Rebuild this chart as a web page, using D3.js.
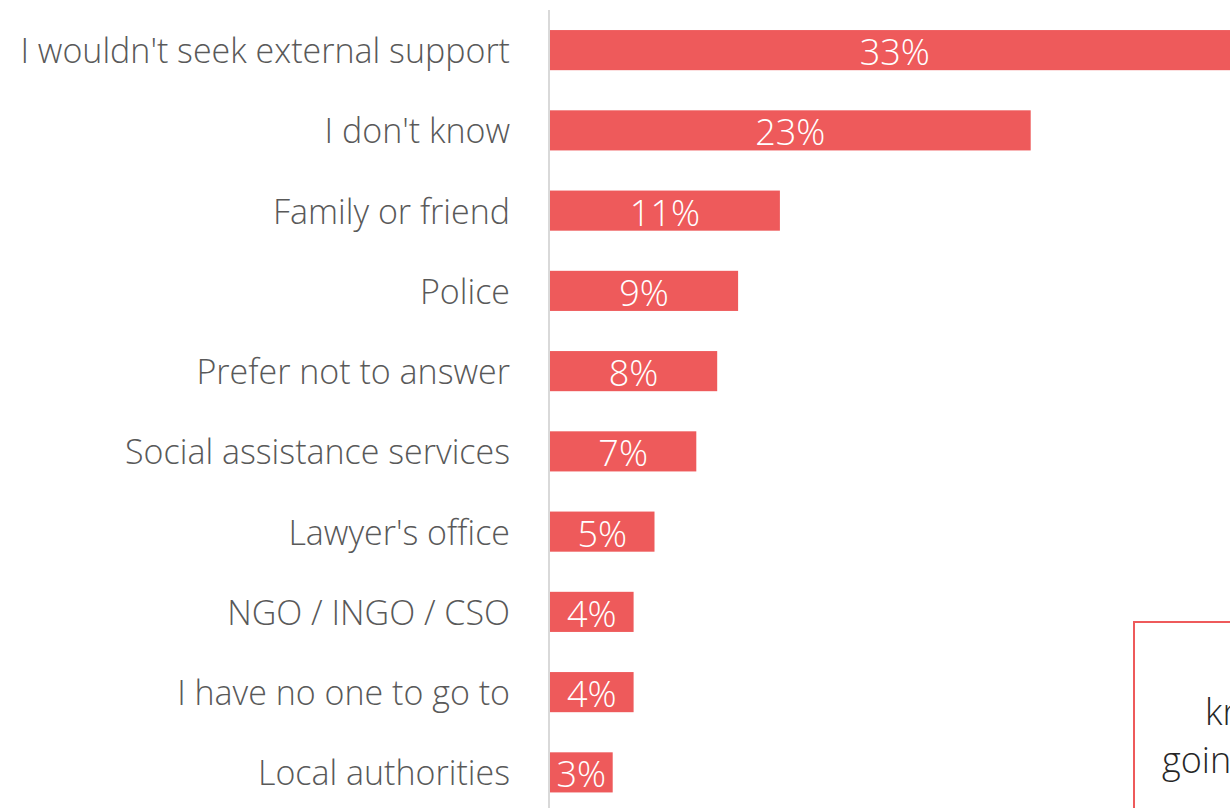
<!DOCTYPE html>
<html>
<head>
<meta charset="utf-8">
<script src="https://cdn.jsdelivr.net/npm/d3@7"></script>
<style>
  html, body { margin: 0; padding: 0; background: #fff; overflow: hidden; }
  svg { display: block; }
  text { font-family: "Open Sans", "Segoe UI", sans-serif; font-weight: 300; }
</style>
</head>
<body>
<svg id="chart" width="1230" height="808"></svg>
<script>
// Where people would turn for support (% of respondents)
const categories = [
  "I wouldn't seek external support",
  "I don't know",
  "Family or friend",
  "Police",
  "Prefer not to answer",
  "Social assistance services",
  "Lawyer's office",
  "NGO / INGO / CSO",
  "I have no one to go to",
  "Local authorities"
];
const values = [33, 23, 11, 9, 8, 7, 5, 4, 4, 3];
const calloutLines = ["know", "going"];

const W = 1230, H = 808;
const barColor = "#EE5A5B";
const svg = d3.select("#chart");

const x = d3.scaleLinear().domain([0, 33]).range([550, 550 + 33 * 20.9]);
const y = d3.scaleBand()
  .domain(categories)
  .range([10, 812.5])
  .paddingInner(0.5)
  .paddingOuter(0.25);

const data = categories.map((c, i) => ({ c, v: values[i] }));

// category axis line
svg.append("line")
  .attr("x1", 549).attr("x2", 549)
  .attr("y1", 10).attr("y2", H)
  .attr("stroke", "#d9d9d9").attr("stroke-width", 2);

// bars
svg.append("g").selectAll("rect").data(data).join("rect")
  .attr("x", x(0))
  .attr("y", d => y(d.c))
  .attr("width", d => x(d.v) - x(0))
  .attr("height", y.bandwidth())
  .attr("fill", barColor);

// category labels
svg.append("g").selectAll("text").data(data).join("text")
  .attr("x", 510)
  .attr("y", d => y(d.c) + y.bandwidth() / 2 + 13)
  .attr("text-anchor", "end")
  .attr("font-size", 34)
  .attr("fill", "#595959")
  .text(d => d.c);

// value labels
svg.append("g").selectAll("text").data(data).join("text")
  .attr("x", d => (x(0) + x(d.v)) / 2)
  .attr("y", d => y(d.c) + y.bandwidth() / 2 + 15)
  .attr("text-anchor", "middle")
  .attr("font-size", 36)
  .attr("fill", "#ffffff")
  .text(d => d.v + "%");

// callout box at lower right, running past the page edge
const box = svg.append("g");
box.append("rect")
  .attr("x", 1134).attr("y", 622)
  .attr("width", 200).attr("height", 260)
  .attr("fill", "none")
  .attr("stroke", barColor).attr("stroke-width", 2);
box.append("text").attr("x", 1205).attr("y", 725)
  .attr("font-size", 36).attr("fill", "#262626").text(calloutLines[0]);
box.append("text").attr("x", 1162).attr("y", 773)
  .attr("font-size", 36).attr("fill", "#262626").text(calloutLines[1]);
</script>
</body>
</html>
